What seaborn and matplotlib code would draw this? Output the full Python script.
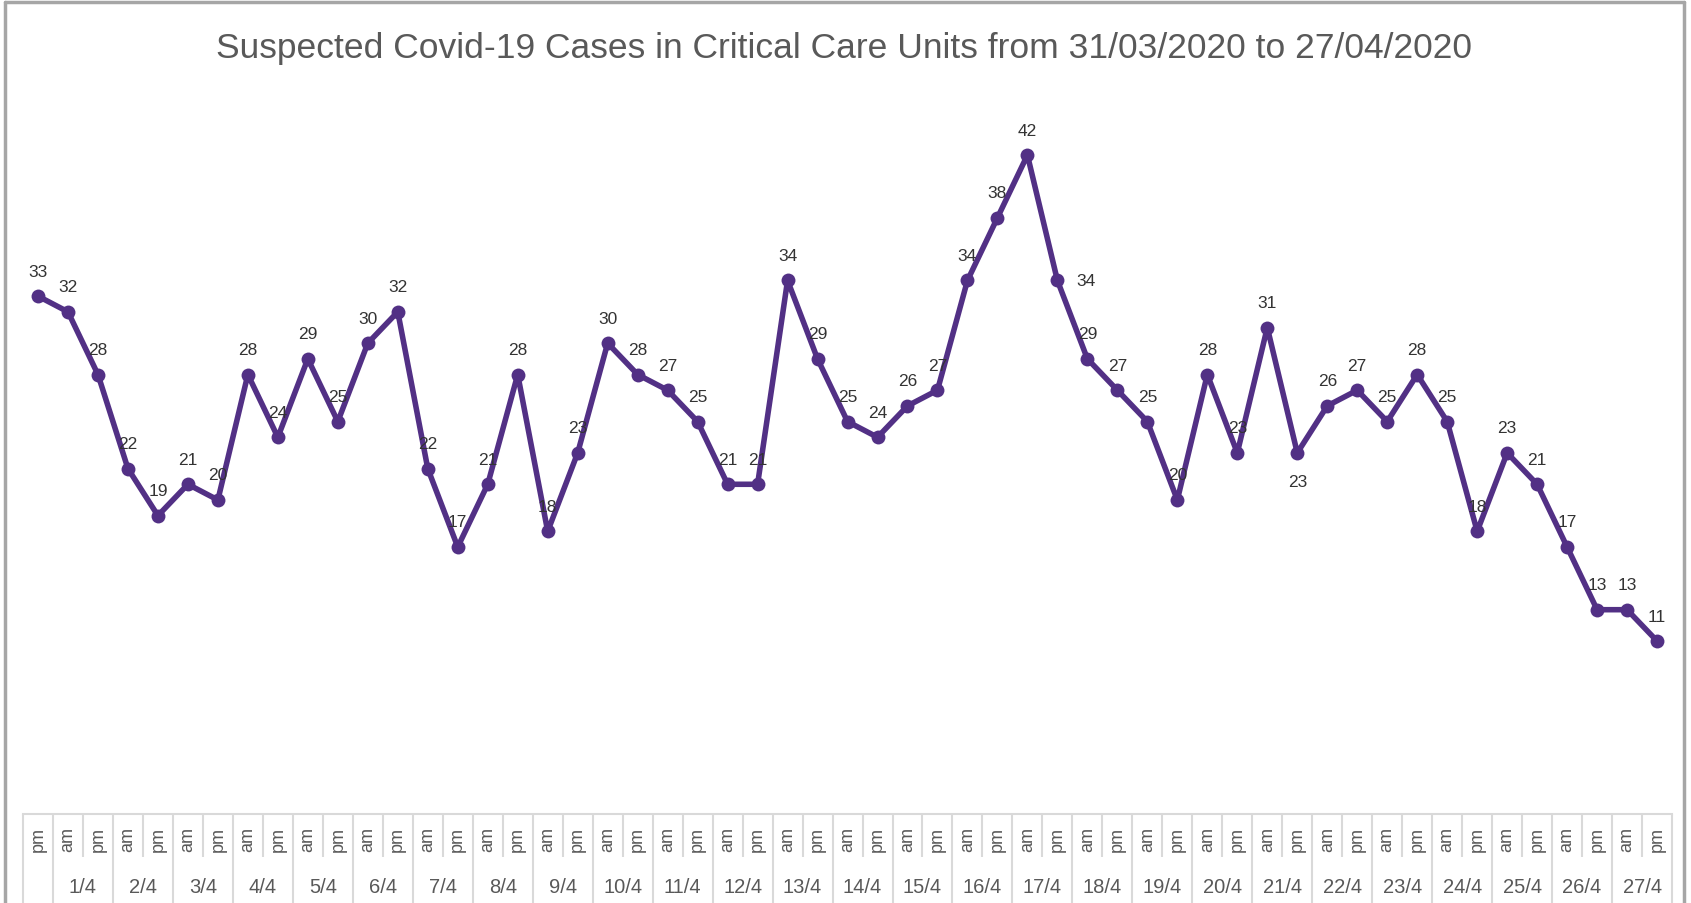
import pandas as pd
import seaborn as sns
import matplotlib.pyplot as plt
import matplotlib.transforms as mtransforms
from matplotlib import font_manager
from matplotlib.lines import Line2D

title = "Suspected Covid-19 Cases in Critical Care Units from 31/03/2020 to 27/04/2020"

# one entry per reading (31/3 pm, then am/pm for each day of April)
day = ['31/3',
       '1/4', '1/4', '2/4', '2/4', '3/4', '3/4', '4/4', '4/4', '5/4', '5/4',
       '6/4', '6/4', '7/4', '7/4', '8/4', '8/4', '9/4', '9/4', '10/4', '10/4',
       '11/4', '11/4', '12/4', '12/4', '13/4', '13/4', '14/4', '14/4', '15/4', '15/4',
       '16/4', '16/4', '17/4', '17/4', '18/4', '18/4', '19/4', '19/4', '20/4', '20/4',
       '21/4', '21/4', '22/4', '22/4', '23/4', '23/4', '24/4', '24/4', '25/4', '25/4',
       '26/4', '26/4', '27/4', '27/4']
half = ['pm'] + ['am', 'pm'] * 27
cases = [33, 32, 28, 22, 19, 21, 20, 28, 24, 29, 25, 30, 32, 22, 17, 21, 28, 18, 23,
         30, 28, 27, 25, 21, 21, 34, 29, 25, 24, 26, 27, 34, 38, 42, 34, 29, 27, 25,
         20, 28, 23, 31, 23, 26, 27, 25, 28, 25, 18, 23, 21, 17, 13, 13, 11]
# the first group (31/3) carries no date label in the original
day_labels = {'31/3': ''}

# label placement tweaks (pixels), default is centred above the point
label_offsets = {34: (29, 0), 42: (0, -29)}

df = pd.DataFrame({'slot': range(len(cases)), 'day': day, 'half': half, 'cases': cases})

sns.set_style('white')
names = {f.name for f in font_manager.fontManager.ttflist}
narrow = 'Liberation Sans Narrow' if 'Liberation Sans Narrow' in names else 'Liberation Sans'
plt.rcParams['font.family'] = [narrow, 'DejaVu Sans']

purple = '#523085'
grid_grey = '#D9D9D9'
text_grey = '#595959'

fig = plt.figure(figsize=(16.91, 9.04), dpi=100)
ax = fig.add_axes([0.0136, 0.099, 0.9752, 0.7804])

sns.lineplot(data=df, x='slot', y='cases', ax=ax, color=purple, linewidth=4,
             marker='o', markersize=10, markeredgewidth=0, clip_on=False)

for i, v in enumerate(cases):
    dx, dy = label_offsets.get(i, (0, 25))
    ax.annotate(str(v), (i, v), xytext=(dx, dy), textcoords='offset pixels',
                ha='center', va='center', fontsize=12.5, color='#333333')

ax.set_xlim(-0.5, len(cases) - 0.5)
ax.set_ylim(0, 45)
ax.set_yticks([])
ax.set_ylabel('')
ax.set_xlabel('')
for s in ['left', 'right', 'top']:
    ax.spines[s].set_visible(False)
ax.spines['bottom'].set_color(grid_grey)
ax.spines['bottom'].set_linewidth(1.5)

# am / pm row
ax.set_xticks(df['slot'])
ax.set_xticklabels(df['half'], rotation=90, fontsize=13, color=text_grey,
                   family=['Liberation Sans', 'DejaVu Sans'])
ax.tick_params(axis='x', length=0, pad=9)

# date row and separators of the category table
trans = mtransforms.blended_transform_factory(ax.transData, ax.transAxes)
groups = df.groupby('day', sort=False)['slot']
for d, slots in groups:
    lo, hi = slots.min(), slots.max()
    ax.text((lo + hi) / 2, -0.1028, day_labels.get(d, d), transform=trans,
            ha='center', va='center', fontsize=14.5, color=text_grey)
    ax.vlines(lo - 0.5, -0.14, 0, transform=trans, color=grid_grey, lw=1.5, clip_on=False)
    for s in slots.iloc[1:]:
        ax.vlines(s - 0.5, -0.0617, 0, transform=trans, color=grid_grey, lw=1.5, clip_on=False)
ax.vlines(len(cases) - 0.5, -0.14, 0, transform=trans, color=grid_grey, lw=1.5, clip_on=False)

fig.text(0.499, 0.946, title, ha='center', va='center', fontsize=25.5, color=text_grey)

# chart frame
frame = dict(color='#A6A6A6', lw=2.5, transform=fig.transFigure)
fig.add_artist(Line2D([0.0027, 0.0027], [0, 0.9967], **frame))
fig.add_artist(Line2D([0.0027, 0.9958], [0.9967, 0.9967], **frame))
fig.add_artist(Line2D([0.9958, 0.9958], [0, 0.9967], **frame))

plt.savefig('out.png', dpi=100)
